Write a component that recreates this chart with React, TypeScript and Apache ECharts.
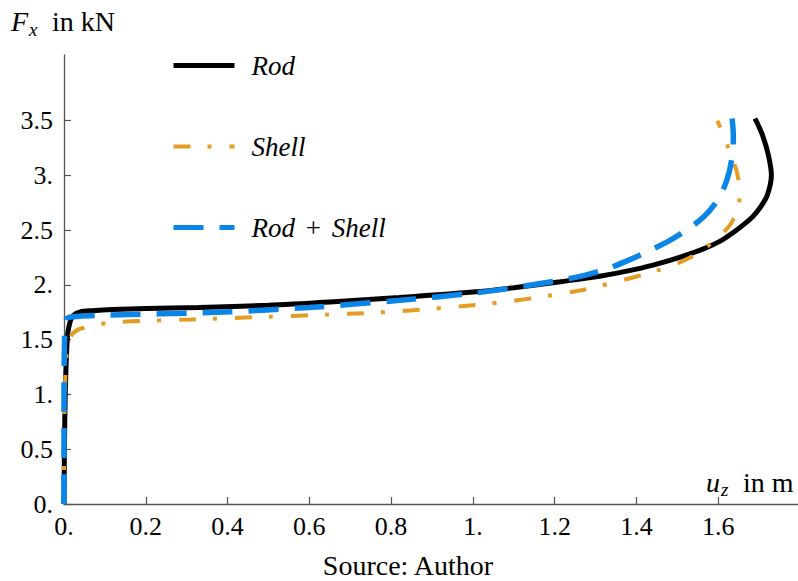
import React, { useEffect, useRef } from "react";
import * as echarts from "echarts";

const FONT = "'Liberation Serif', 'Times New Roman', 'DejaVu Serif', serif";

const seriesNames = ["Rod", "Shell", "Rod + Shell"];

const rodData: [number, number][] = [
  [0, 0], [0.001, 0.5], [0.003, 1.0], [0.006, 1.35], [0.009, 1.55], [0.014, 1.65],
  [0.022, 1.72], [0.04, 1.755], [0.07, 1.765], [0.12, 1.775], [0.2, 1.785],
  [0.33, 1.795], [0.5, 1.815], [0.65, 1.845], [0.82, 1.885], [1.0, 1.935],
  [1.1, 1.975], [1.214, 2.03], [1.31, 2.08], [1.4, 2.145], [1.458, 2.2],
  [1.507, 2.255], [1.564, 2.33], [1.605, 2.4], [1.637, 2.48], [1.665, 2.56],
  [1.686, 2.63], [1.705, 2.72], [1.72, 2.82], [1.73, 3.0], [1.723, 3.18],
  [1.708, 3.37], [1.69, 3.52],
];

const shellData: [number, number][] = [
  [0, 0], [0.0, 0.5], [0.002, 1.0], [0.005, 1.3], [0.01, 1.45], [0.02, 1.55],
  [0.04, 1.6], [0.11, 1.655], [0.31, 1.685], [0.5, 1.71], [0.65, 1.73],
  [0.822, 1.76], [1.0, 1.815], [1.1, 1.855], [1.255, 1.945], [1.31, 1.99],
  [1.45, 2.13], [1.52, 2.23], [1.58, 2.37], [1.625, 2.53], [1.645, 2.66],
  [1.652, 2.79], [1.647, 3.01], [1.625, 3.25], [1.598, 3.5],
];

const rodShellData: [number, number][] = [
  [0, 0], [0.0, 1.0], [0.002, 1.6], [0.006, 1.69], [0.02, 1.71], [0.1, 1.725],
  [0.37, 1.75], [0.6, 1.795], [0.822, 1.86], [1.0, 1.925], [1.1, 1.975],
  [1.2, 2.035], [1.27, 2.085], [1.33, 2.15], [1.377, 2.22], [1.43, 2.31],
  [1.483, 2.41], [1.53, 2.52], [1.564, 2.62], [1.592, 2.74], [1.612, 2.87],
  [1.626, 3.02], [1.635, 3.2], [1.637, 3.36], [1.634, 3.52],
];

const xTicks = [0, 0.2, 0.4, 0.6, 0.8, 1.0, 1.2, 1.4, 1.6];
const yTicks = [0, 0.5, 1.0, 1.5, 2.0, 2.5, 3.0, 3.5];

const colors = ["#000000", "#E49C23", "#0A86E8"];

function fmt(v: number): string {
  const r = Math.round(v * 10) / 10;
  return Number.isInteger(r) ? `${r}.` : String(r);
}

export default function App() {
  const ref = useRef<HTMLDivElement>(null);
  useEffect(() => {
    if (!ref.current) return;
    const chart = echarts.init(ref.current, undefined, { renderer: "svg" });
    const axisLine = { show: true, lineStyle: { color: "#555", width: 1.3 } };
    const txt = (t: string, x: number, y: number, size: number, italic: boolean, align = "left") => ({
      type: "text",
      x,
      y,
      style: {
        text: t,
        fill: "#000",
        fontFamily: FONT,
        fontSize: size,
        fontStyle: italic ? "italic" : "normal",
        textAlign: align,
        textVerticalAlign: "middle",
      },
    });
    chart.setOption({
      animation: false,
      backgroundColor: "#fff",
      grid: { left: 64, top: 55, width: 736, height: 449, outerBoundsMode: "none" },
      xAxis: {
        type: "value",
        min: 0,
        max: 1.8,
        interval: 0.2,
        axisLine,
        splitLine: { show: false },
        axisTick: { show: true, inside: true, length: 7, customValues: xTicks, lineStyle: { color: "#555", width: 1.2 } },
        axisLabel: {
          customValues: xTicks,
          formatter: (v: number) => fmt(v),
          margin: 9,
          fontFamily: FONT,
          fontSize: 26,
          color: "#000",
        },
      },
      yAxis: {
        type: "value",
        min: 0,
        max: 4.1,
        interval: 0.5,
        axisLine,
        splitLine: { show: false },
        axisTick: { show: true, inside: true, length: 7, customValues: yTicks, lineStyle: { color: "#555", width: 1.2 } },
        axisLabel: {
          customValues: yTicks,
          formatter: (v: number) => fmt(v),
          margin: 11,
          fontFamily: FONT,
          fontSize: 26,
          color: "#000",
        },
      },
      legend: {
        orient: "vertical",
        left: 166,
        top: 47,
        itemWidth: 61,
        itemHeight: 20,
        itemGap: 54,
        itemStyle: { opacity: 0 },
        data: [
          { name: seriesNames[0], lineStyle: { width: 5 } },
          { name: seriesNames[1], lineStyle: { width: 4 } },
          { name: seriesNames[2], lineStyle: { width: 5 } },
        ],
        formatter: (name: string) =>
          name === "Rod + Shell" ? "{i|Rod} {n|+} {i|Shell}" : `{i|${name}}`,
        textStyle: {
          color: "#000",
          fontFamily: FONT,
          fontSize: 27,
          padding: [0, 0, 0, 12],
          rich: {
            i: { fontStyle: "italic", fontFamily: FONT, fontSize: 27, lineHeight: 20, color: "#000" },
            n: { fontFamily: FONT, fontSize: 27, lineHeight: 20, color: "#000", padding: [0, 4, 0, 4] },
          },
        },
      },
      series: [
        {
          name: seriesNames[0],
          type: "line",
          data: rodData,
          showSymbol: false,
          symbol: "none",
          smooth: 0.3,
          color: colors[0],
          lineStyle: { color: colors[0], width: 5 },
        },
        {
          name: seriesNames[1],
          type: "line",
          data: shellData,
          showSymbol: false,
          symbol: "none",
          smooth: 0.3,
          color: colors[1],
          lineStyle: { color: colors[1], width: 4, type: [17, 17, 4, 18] },
        },
        {
          name: seriesNames[2],
          type: "line",
          data: rodShellData,
          showSymbol: false,
          symbol: "none",
          smooth: 0.3,
          color: colors[2],
          lineStyle: { color: colors[2], width: 5.5, type: [30, 16] },
        },
      ],
      graphic: [
        txt("F", 11, 21, 28, true),
        txt("x", 29, 29, 19, true),
        txt("in kN", 52, 21, 28, false),
        txt("u", 706, 482, 28, true),
        txt("z", 721, 489, 19, true),
        txt("in m", 743, 482, 28, false),
        txt("Source: Author", 408, 565, 28, false, "center"),
      ],
    });
    return () => chart.dispose();
  }, []);
  return <div ref={ref} style={{ position: "absolute", left: 0, top: 0, width: 798, height: 581 }} />;
}
